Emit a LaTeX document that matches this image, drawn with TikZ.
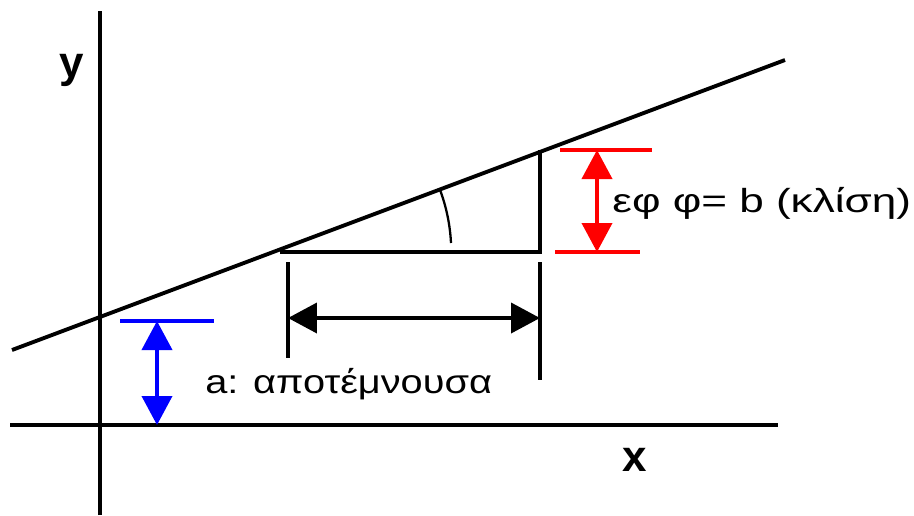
\documentclass[tikz,border=0pt]{standalone}
\usepackage{fontspec}
\setmainfont{Liberation Sans}
\usetikzlibrary{arrows.meta}

\begin{document}
\begin{tikzpicture}[
  x=0.02cm, y=-0.02cm, font=\fontsize{19}{22}\selectfont,
  axis/.style={line width=2.2pt},
  marker/.style={line width=2.2pt},
  axislabel/.style={font=\fontsize{25}{28}\selectfont\bfseries},
  dimension/.style={{Triangle[length=0.58cm,width=0.6cm]}-{Triangle[length=0.58cm,width=0.6cm]}, line width=2.2pt}]
\useasboundingbox (0,0) rectangle (914,515);
% axes
\coordinate (yTop) at (100,11);
\coordinate (yBot) at (100,515);
\coordinate (xLeft) at (10,425);
\coordinate (xRight) at (778,425);
\draw[axis] (yBot) -- (yTop);
\draw[axis] (xLeft) -- (xRight);
\node[axislabel] (ylabel) at (72,70) {y};
\node[axislabel] (xlabel) at (635,460) {x};
% regression line
\coordinate (lineStart) at (12,350);
\coordinate (lineEnd) at (785,60);
\draw[axis] (lineStart) -- (lineEnd);
% slope triangle
\coordinate (triLeft) at (280,252);
\coordinate (triCorner) at (540,252);
\coordinate (triTop) at (540,150);
\draw[axis] (triLeft) -- (triCorner) -- (triTop);
\draw[line width=1.3pt] (451,243) arc[start angle=-2.9, end angle=-20.5, radius=178];
% run
\coordinate (runLeftTop) at (288,262);
\coordinate (runLeftBot) at (288,358);
\coordinate (runRightTop) at (540,262);
\coordinate (runRightBot) at (540,380);
\coordinate (runLeft) at (288,318);
\coordinate (runRight) at (540,318);
\draw[marker] (runLeftTop) -- (runLeftBot);
\draw[marker] (runRightTop) -- (runRightBot);
\draw[dimension] (runLeft) -- (runRight);
% intercept
\coordinate (icptLeft) at (120,321);
\coordinate (icptRight) at (214,321);
\coordinate (icptTop) at (157,321);
\coordinate (icptBot) at (157,425);
\draw[marker, blue] (icptLeft) -- (icptRight);
\draw[dimension, blue] (icptTop) -- (icptBot);
\node[anchor=west, inner sep=0pt] (intercept) at (205,384)
  {\scalebox{1.19}[1]{a: αποτέμνουσα}};
% slope
\coordinate (riseTopL) at (560,150);
\coordinate (riseTopR) at (652,150);
\coordinate (riseBotL) at (555,252);
\coordinate (riseBotR) at (640,252);
\coordinate (riseTop) at (597,150);
\coordinate (riseBot) at (597,252);
\draw[marker, red] (riseTopL) -- (riseTopR);
\draw[marker, red] (riseBotL) -- (riseBotR);
\draw[dimension, red] (riseTop) -- (riseBot);
\node[anchor=west, inner sep=0pt] (slope) at (612,203)
  {\scalebox{1.32}[1]{εφ φ= b (κλίση)}};
\end{tikzpicture}
\end{document}
